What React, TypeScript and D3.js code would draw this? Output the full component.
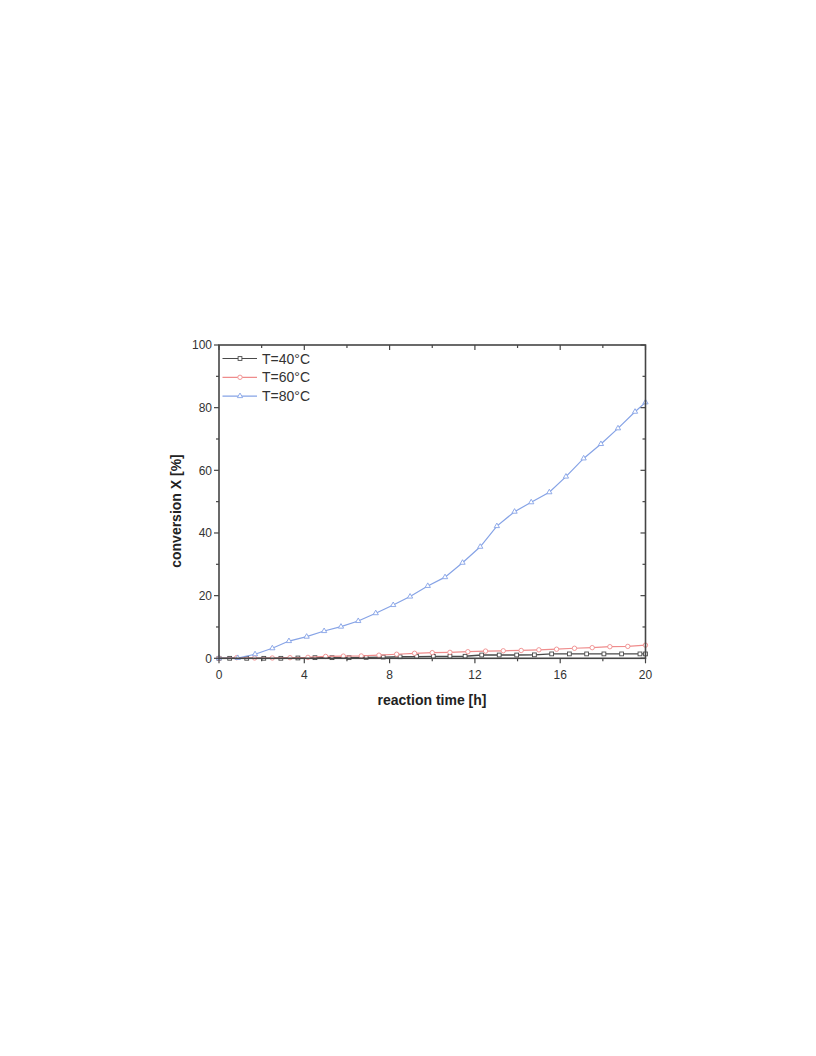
import React from "react";
import * as d3 from "d3";

// ---- data ----
const xTicks = [0, 4, 8, 12, 16, 20];
const xMinorTicks = [2, 6, 10, 14, 18];
const yTicks = [0, 20, 40, 60, 80, 100];
const yMinorTicks = [10, 30, 50, 70, 90];

const seriesNames = ["T=40°C", "T=60°C", "T=80°C"];

const time40 = [0, 0.5, 1.3, 2.1, 2.9, 3.7, 4.5, 5.3, 6.1, 6.9, 7.7, 8.49, 9.27, 10.05, 10.83, 11.54, 12.32, 13.14, 13.96, 14.79, 15.6, 16.43, 17.24, 18.05, 18.88, 19.74, 20];
const conv40 = [0, 0, 0, 0, 0, 0.1, 0.2, 0.2, 0.2, 0.3, 0.4, 0.5, 0.55, 0.6, 0.6, 0.65, 1.05, 1.05, 1.05, 1.1, 1.4, 1.4, 1.4, 1.4, 1.4, 1.4, 1.4];

const time60 = [0, 0.83, 1.67, 2.5, 3.33, 4.17, 5.0, 5.83, 6.67, 7.5, 8.33, 9.17, 10.0, 10.83, 11.67, 12.5, 13.33, 14.17, 15.0, 15.83, 16.67, 17.5, 18.33, 19.17, 20];
const conv60 = [0, 0.2, 0.1, 0.1, 0.2, 0.3, 0.6, 0.7, 0.75, 1.0, 1.3, 1.6, 1.8, 1.9, 2.1, 2.3, 2.4, 2.5, 2.7, 2.9, 3.2, 3.4, 3.7, 3.8, 4.2];

const time80 = [0, 0.88, 1.69, 2.5, 3.28, 4.11, 4.93, 5.72, 6.53, 7.35, 8.17, 8.96, 9.79, 10.6, 11.42, 12.25, 13.03, 13.86, 14.64, 15.49, 16.27, 17.1, 17.91, 18.71, 19.51, 20];
const conv80 = [0, 0.1, 1.3, 3.2, 5.5, 6.9, 8.7, 10.1, 11.9, 14.4, 17.0, 19.7, 23.1, 25.9, 30.5, 35.6, 42.2, 46.8, 49.8, 53.0, 58.0, 63.8, 68.4, 73.4, 78.7, 81.7];

const colors = ["#4a4a4a", "#ef8c8c", "#86a3e6"];
const markers = ["square", "circle", "triangle"];

export default function App() {
  const left = 219, right = 645.5, top = 345, bottom = 658.3;
  const x = d3.scaleLinear().domain([0, 20]).range([left, right]);
  const y = d3.scaleLinear().domain([0, 100]).range([bottom, top]);

  const series = [
    { t: time40, v: conv40 },
    { t: time60, v: conv60 },
    { t: time80, v: conv80 },
  ];

  const line = d3.line<[number, number]>().x(d => x(d[0])).y(d => y(d[1]));

  const marker = (kind: string, cx: number, cy: number, color: string, key: any) => {
    if (kind === "square")
      return <rect key={key} x={cx - 1.9} y={cy - 1.9} width={3.8} height={3.8} fill="#fff" stroke={color} strokeWidth={0.9} />;
    if (kind === "circle")
      return <circle key={key} cx={cx} cy={cy} r={2.2} fill="#fff" stroke={color} strokeWidth={0.9} />;
    const s = d3.symbol().type(d3.symbolTriangle).size(12)();
    return <path key={key} d={s as string} transform={`translate(${cx},${cy})`} fill="#fff" stroke={color} strokeWidth={0.9} />;
  };

  const axisColor = "#454545";
  const font = "Liberation Sans, Arial, sans-serif";

  return (
    <svg width={816} height={1056} style={{ position: "absolute", left: 0, top: 0 }} fontFamily={font}>
      <rect x={0} y={0} width={816} height={1056} fill="#fff" />
      {/* series */}
      {series.map((s, i) => {
        const pts = s.t.map((t, j) => [t, s.v[j]] as [number, number]);
        return (
          <g key={i}>
            <path d={line(pts) as string} fill="none" stroke={colors[i]} strokeWidth={i === 0 ? 1.3 : 1.2} />
            {pts.map((p, j) => marker(markers[i], x(p[0]), y(p[1]), colors[i], j))}
          </g>
        );
      })}
      {/* frame */}
      <rect x={left} y={top} width={right - left} height={bottom - top} fill="none" stroke={axisColor} strokeWidth={1.6} />
      {/* left axis ticks */}
      {yTicks.map(v => (
        <g key={"y" + v}>
          <line x1={left - 5} x2={left} y1={y(v)} y2={y(v)} stroke={axisColor} strokeWidth={1.2} />
          <line x1={right - 5} x2={right} y1={y(v)} y2={y(v)} stroke={axisColor} strokeWidth={1.2} />
          <text x={left - 7} y={y(v)} dy="0.36em" textAnchor="end" fontSize={12} fill="#333">{v}</text>
        </g>
      ))}
      {yMinorTicks.map(v => (
        <g key={"ym" + v}>
          <line x1={left - 3} x2={left} y1={y(v)} y2={y(v)} stroke={axisColor} strokeWidth={1.2} />
          <line x1={right - 3} x2={right} y1={y(v)} y2={y(v)} stroke={axisColor} strokeWidth={1.2} />
        </g>
      ))}
      {/* bottom axis ticks */}
      {xTicks.map(v => (
        <g key={"x" + v}>
          <line x1={x(v)} x2={x(v)} y1={bottom} y2={bottom + 5} stroke={axisColor} strokeWidth={1.2} />
          <line x1={x(v)} x2={x(v)} y1={top} y2={top + 5} stroke={axisColor} strokeWidth={1.2} />
          <text x={x(v)} y={bottom + 21} textAnchor="middle" fontSize={12} fill="#333">{v}</text>
        </g>
      ))}
      {xMinorTicks.map(v => (
        <g key={"xm" + v}>
          <line x1={x(v)} x2={x(v)} y1={bottom} y2={bottom + 3} stroke={axisColor} strokeWidth={1.2} />
          <line x1={x(v)} x2={x(v)} y1={top} y2={top + 3} stroke={axisColor} strokeWidth={1.2} />
        </g>
      ))}
      {/* axis titles */}
      <text x={432} y={705} textAnchor="middle" fontSize={14} fontWeight="bold" fill="#222">reaction time [h]</text>
      <text transform={`translate(181,511) rotate(-90)`} textAnchor="middle" fontSize={14} fontWeight="bold" fill="#222">conversion X [%]</text>
      {/* legend */}
      {seriesNames.map((n, i) => {
        const ly = 358.5 + i * 18.8;
        return (
          <g key={"lg" + i}>
            <line x1={222.5} x2={257} y1={ly} y2={ly} stroke={colors[i]} strokeWidth={1.2} />
            {marker(markers[i], 240, ly, colors[i], "m")}
            <text x={262} y={ly} dy="0.36em" fontSize={14} fill="#333">{n}</text>
          </g>
        );
      })}
    </svg>
  );
}
